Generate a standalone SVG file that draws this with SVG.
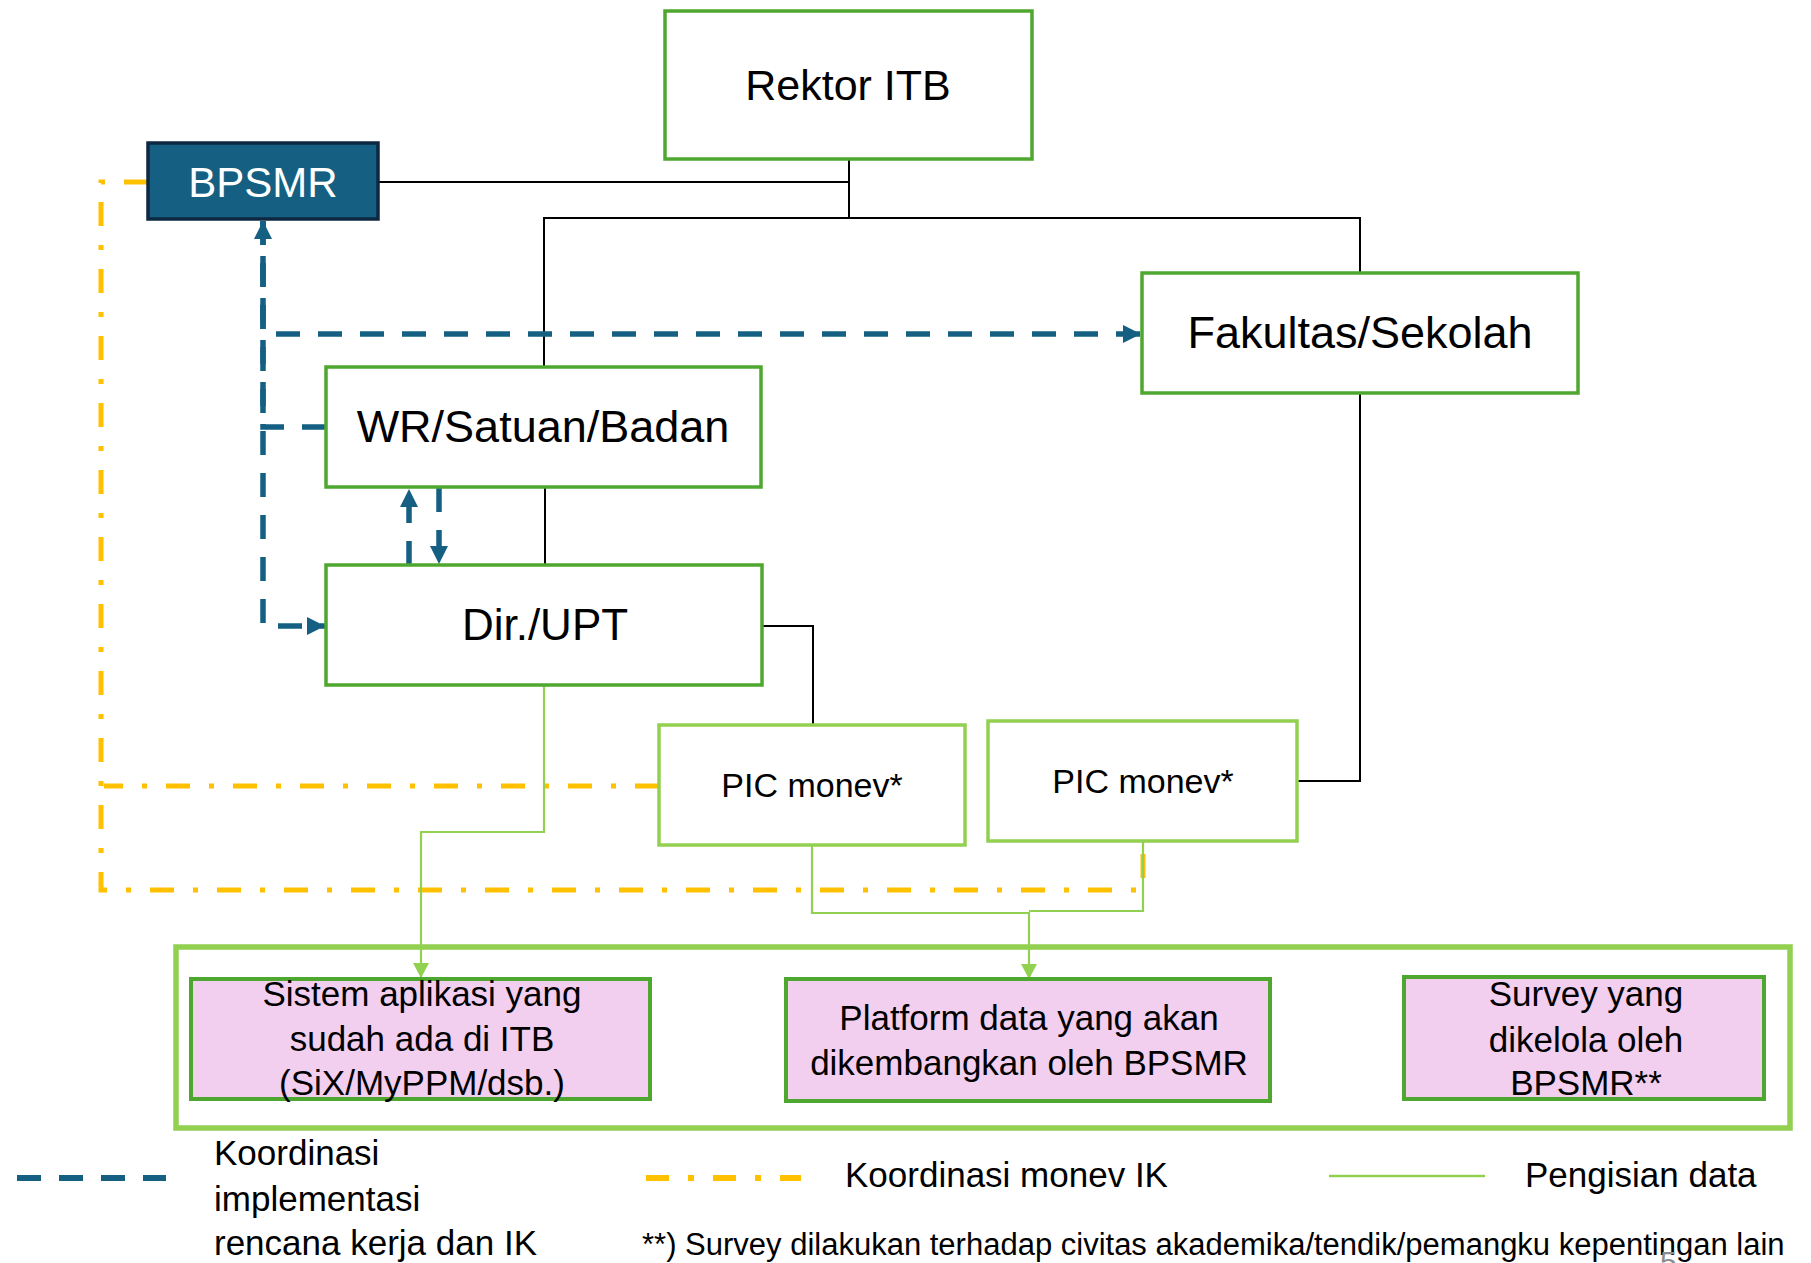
<svg xmlns="http://www.w3.org/2000/svg" width="1811" height="1263" viewBox="0 0 1811 1263">
<style>
  text { font-family: "Liberation Sans", Arial, sans-serif; fill: #000; }
  .box { fill: #fff; stroke: #4EA72E; stroke-width: 3.5; }
  .pic { fill: #fff; stroke: #92D050; stroke-width: 3.5; }
  .pink { fill: #F2CEEF; stroke: #4EA72E; stroke-width: 4; }
  .org { fill: none; stroke: #000; stroke-width: 2; }
  .blue { fill: none; stroke: #156082; stroke-width: 5.5; stroke-dasharray: 24 18; }
  .yel { fill: none; stroke: #FFC000; stroke-width: 5; stroke-dasharray: 24 19 5 19; }
  .grn { fill: none; stroke: #92D050; stroke-width: 2.2; }
  .big { font-size: 44px; text-anchor: middle; }
  .mid { font-size: 35px; text-anchor: middle; }
  .leg { font-size: 35px; }
</style>
<defs>
  <marker id="ab" markerUnits="userSpaceOnUse" markerWidth="18" markerHeight="18" refX="18" refY="9" orient="auto">
    <path d="M0,0 L18,9 L0,18 z" fill="#156082"/>
  </marker>
  <marker id="ag" markerUnits="userSpaceOnUse" markerWidth="16" markerHeight="16" refX="15" refY="8" orient="auto">
    <path d="M0,0 L15,8 L0,16 z" fill="#92D050"/>
  </marker>
</defs>

<g id="container">
  <rect x="176" y="947" width="1614" height="181" fill="none" stroke="#92D050" stroke-width="5.5"/>
</g>

<g id="connectors">
  <!-- organisational lines -->
  <path class="org" d="M849,159 V182 H379"/>
  <path class="org" d="M849,159 V218 H544 V367"/>
  <path class="org" d="M849,218 H1360 V273"/>
  <path class="org" d="M545,487 V565"/>
  <path class="org" d="M762,626 H813 V725"/>
  <path class="org" d="M1360,393 V781 H1297"/>
  <!-- koordinasi monev IK -->
  <path class="yel" d="M148,182 H101 V890 H1143 V845"/>
  <path class="yel" d="M659,786 H104"/>
  <!-- pengisian data -->
  <path class="grn" d="M544,685 V832 H421 V978" marker-end="url(#ag)"/>
  <path class="grn" d="M812,845 V913 H1029 V979" marker-end="url(#ag)"/>
  <path class="grn" d="M1143,841 V911 H1029"/>
  <!-- koordinasi implementasi -->
  <path class="blue" d="M326,427 H263 V221" marker-end="url(#ab)"/>
  <path class="blue" d="M263,221 V334 H1141" marker-end="url(#ab)"/>
  <path class="blue" d="M263,221 V626 H325" marker-end="url(#ab)"/>
  <path class="blue" d="M409,565 V489" marker-end="url(#ab)"/>
  <path class="blue" d="M439,488 V564" marker-end="url(#ab)"/>
</g>

<g id="rektor">
  <rect class="box" x="665" y="11" width="367" height="148"/>
  <text class="big" x="848" y="100" style="font-size:43px">Rektor ITB</text>
</g>
<g id="bpsmr">
  <rect x="148" y="143" width="230" height="76" fill="#156082" stroke="#0E2841" stroke-width="3.5"/>
  <text class="big" x="263" y="197" style="font-size:42px; fill:#fff">BPSMR</text>
</g>
<g id="fakultas">
  <rect class="box" x="1142" y="273" width="436" height="120"/>
  <text class="big" x="1360" y="348" style="font-size:45px">Fakultas/Sekolah</text>
</g>
<g id="wr">
  <rect class="box" x="326" y="367" width="435" height="120"/>
  <text class="big" x="543" y="442" style="font-size:45px">WR/Satuan/Badan</text>
</g>
<g id="dir">
  <rect class="box" x="326" y="565" width="436" height="120"/>
  <text class="big" x="545" y="640">Dir./UPT</text>
</g>
<g id="pic1">
  <rect class="pic" x="659" y="725" width="306" height="120"/>
  <text class="mid" x="812" y="797" style="font-size:34px">PIC monev*</text>
</g>
<g id="pic2">
  <rect class="pic" x="988" y="721" width="309" height="120"/>
  <text class="mid" x="1143" y="793" style="font-size:34px">PIC monev*</text>
</g>
<g id="sistem">
  <rect class="pink" x="191" y="979" width="459" height="120"/>
  <text class="mid" x="422" y="1006">Sistem aplikasi yang</text>
  <text class="mid" x="422" y="1051">sudah ada di ITB</text>
  <text class="mid" x="422" y="1095">(SiX/MyPPM/dsb.)</text>
</g>
<g id="platform">
  <rect class="pink" x="786" y="979" width="484" height="122"/>
  <text class="mid" x="1029" y="1030">Platform data yang akan</text>
  <text class="mid" x="1029" y="1075">dikembangkan oleh BPSMR</text>
</g>
<g id="survey">
  <rect class="pink" x="1404" y="977" width="360" height="122"/>
  <text class="mid" x="1586" y="1006">Survey yang</text>
  <text class="mid" x="1586" y="1052">dikelola oleh</text>
  <text class="mid" x="1586" y="1095">BPSMR**</text>
</g>

<g id="legend">
  <line x1="17" y1="1178" x2="166" y2="1178" stroke="#156082" stroke-width="6" stroke-dasharray="24 18"/>
  <text class="leg" x="214" y="1165">Koordinasi</text>
  <text class="leg" x="214" y="1211">implementasi</text>
  <text class="leg" x="214" y="1255">rencana kerja dan IK</text>
  <line x1="646" y1="1178" x2="801" y2="1178" stroke="#FFC000" stroke-width="6" stroke-dasharray="23 19 6 19"/>
  <text class="leg" x="845" y="1187">Koordinasi monev IK</text>
  <line x1="1329" y1="1176" x2="1485" y2="1176" stroke="#92D050" stroke-width="2.5"/>
  <text class="leg" x="1525" y="1187">Pengisian data</text>
  <text x="642" y="1255" style="font-size:31px">**) Survey dilakukan terhadap civitas akademika/tendik/pemangku kepentingan lain</text>
  <text x="1660" y="1272" style="font-size:30px; fill:#8c8c8c">5</text>
</g>
</svg>
